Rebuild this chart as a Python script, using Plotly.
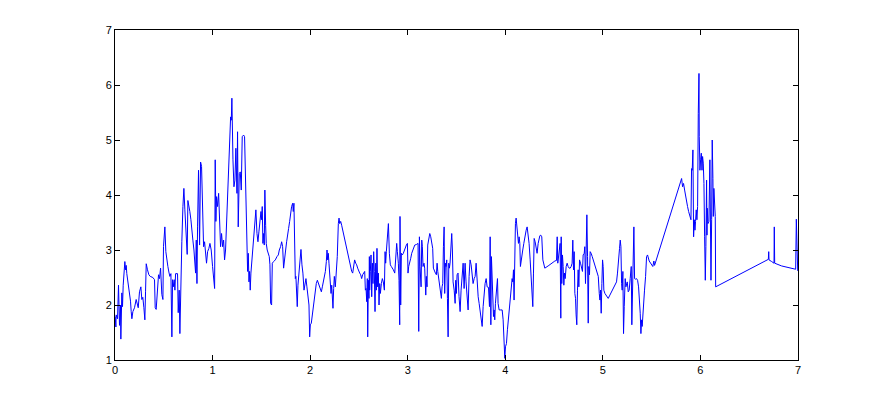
import plotly.graph_objects as go

# Eixos / ticks
x_ticks = [0, 1, 2, 3, 4, 5, 6, 7]
y_ticks = [1, 2, 3, 4, 5, 6, 7]

# Serie (x, y)
t = [
    0.002, 0.009, 0.012, 0.026, 0.036, 0.046, 0.056, 0.06, 0.07, 0.077, 0.084, 0.094, 0.101, 0.108, 0.115, 0.121,
    0.132, 0.142, 0.152, 0.159, 0.166, 0.173, 0.183, 0.2, 0.217, 0.227, 0.238, 0.251, 0.265, 0.275, 0.285, 0.296,
    0.306, 0.313, 0.32, 0.333, 0.347, 0.361, 0.388, 0.405, 0.412, 0.422, 0.432, 0.446, 0.456, 0.467, 0.48, 0.491,
    0.497, 0.511, 0.521, 0.532, 0.542, 0.552, 0.562, 0.573, 0.579, 0.583, 0.59, 0.597, 0.607, 0.614, 0.621, 0.641,
    0.648, 0.658, 0.665, 0.675, 0.685, 0.696, 0.706, 0.716, 0.723, 0.733, 0.74, 0.747, 0.757, 0.767, 0.778, 0.788,
    0.798, 0.809, 0.819, 0.826, 0.833, 0.84, 0.846, 0.856,
    0.867, 0.877, 0.887, 0.897, 0.908, 0.918, 0.928, 0.938, 0.949, 0.962, 0.973, 0.986, 1.0, 1.01, 1.021, 1.027,
    1.034, 1.041, 1.051, 1.062, 1.072, 1.082, 1.092, 1.103, 1.113, 1.123, 1.133, 1.144, 1.154, 1.164, 1.174, 1.185,
    1.192, 1.198, 1.209, 1.219, 1.229, 1.239, 1.25, 1.256, 1.263, 1.274, 1.284, 1.294, 1.304, 1.318, 1.328, 1.338,
    1.349, 1.359, 1.366, 1.373, 1.379, 1.386, 1.393, 1.403, 1.414, 1.424, 1.434, 1.444, 1.455, 1.465, 1.475, 1.485,
    1.496, 1.503, 1.509, 1.516, 1.523, 1.53, 1.536, 1.544, 1.55, 1.56, 1.571, 1.581, 1.588, 1.595, 1.605, 1.612,
    1.626, 1.643, 1.66, 1.674, 1.684,
    1.697, 1.708, 1.718, 1.728, 1.738, 1.749, 1.759, 1.769, 1.779, 1.79, 1.8, 1.81, 1.821, 1.827, 1.834, 1.841,
    1.848, 1.854, 1.861, 1.868, 1.875, 1.885, 1.895, 1.906, 1.916, 1.926, 1.937, 1.947, 1.957, 1.967, 1.978, 1.988,
    1.995, 2.002, 2.012, 2.022, 2.032, 2.043, 2.053, 2.063, 2.074, 2.084, 2.094, 2.104, 2.115, 2.125, 2.135, 2.145,
    2.156, 2.166, 2.173, 2.18, 2.186, 2.193, 2.2, 2.207, 2.214, 2.221, 2.227, 2.234, 2.241, 2.248, 2.258, 2.268,
    2.278, 2.289, 2.296, 2.303, 2.313, 2.323, 2.354, 2.385, 2.415, 2.426, 2.436, 2.446, 2.456, 2.467, 2.477, 2.487,
    2.497, 2.508, 2.518, 2.528, 2.538, 2.549, 2.559, 2.566, 2.573, 2.58, 2.586, 2.59, 2.597, 2.603, 2.607,
    2.61, 2.617, 2.624, 2.631, 2.638, 2.644, 2.651, 2.658, 2.665, 2.672, 2.679, 2.685, 2.692, 2.699, 2.706, 2.713,
    2.72, 2.73, 2.74, 2.75, 2.761, 2.768, 2.774, 2.781, 2.791, 2.802, 2.812, 2.822, 2.832, 2.843, 2.853, 2.867,
    2.877, 2.887, 2.894, 2.904, 2.911, 2.918, 2.921, 2.928, 2.935, 2.945, 2.955, 2.965, 2.976, 2.986, 2.997, 3.003,
    3.01, 3.021, 3.031, 3.041, 3.051, 3.062, 3.072, 3.089, 3.106, 3.113, 3.12, 3.126, 3.137, 3.144, 3.15, 3.157,
    3.167, 3.174, 3.185, 3.191, 3.198, 3.205, 3.215, 3.226, 3.236, 3.246, 3.256, 3.263, 3.274, 3.284, 3.294, 3.301,
    3.308, 3.318, 3.328, 3.338, 3.345, 3.352, 3.359, 3.366, 3.373, 3.379, 3.386, 3.393, 3.4, 3.407, 3.414, 3.421,
    3.427, 3.434, 3.441, 3.451, 3.458, 3.465, 3.476,
    3.486, 3.492, 3.499, 3.506, 3.516, 3.526, 3.537, 3.547, 3.557, 3.568, 3.578, 3.588, 3.598, 3.609, 3.619, 3.629,
    3.639, 3.65, 3.66, 3.67, 3.681, 3.691, 3.701, 3.711, 3.722, 3.732, 3.742, 3.752, 3.763, 3.773, 3.783, 3.793,
    3.804, 3.814, 3.828, 3.838, 3.845, 3.852, 3.858, 3.865, 3.872, 3.879, 3.886, 3.892, 3.899, 3.909, 3.92, 3.926,
    3.937, 3.95, 3.968, 3.978, 3.988, 3.995, 4.002, 4.012, 4.022, 4.032, 4.043, 4.053, 4.063, 4.07, 4.077, 4.084,
    4.09, 4.097, 4.104, 4.111, 4.118, 4.125, 4.135, 4.142, 4.149, 4.155, 4.162, 4.169, 4.179, 4.19, 4.203, 4.214,
    4.224, 4.234, 4.244, 4.255, 4.265, 4.275, 4.282, 4.289, 4.296, 4.306, 4.316, 4.326, 4.337, 4.347,
    4.354, 4.364, 4.374, 4.385, 4.395, 4.405, 4.439, 4.474, 4.508, 4.525, 4.532, 4.538, 4.545, 4.556, 4.562, 4.569,
    4.573, 4.579, 4.586, 4.593, 4.6, 4.607, 4.614, 4.624, 4.634, 4.644, 4.655, 4.665, 4.675, 4.685, 4.692, 4.699,
    4.706, 4.713, 4.72, 4.726, 4.733, 4.74, 4.747, 4.754, 4.761, 4.771, 4.781, 4.791, 4.798, 4.809, 4.815, 4.822,
    4.829, 4.836, 4.843, 4.85, 4.856, 4.863, 4.87, 4.88, 4.891, 4.901, 4.911, 4.921, 4.932, 4.942, 4.953, 4.963,
    4.97, 4.976, 4.983, 4.99, 4.997, 5.003, 5.01, 5.021, 5.031, 5.041, 5.055, 5.072, 5.089, 5.106, 5.123, 5.14,
    5.15, 5.157, 5.164, 5.171, 5.178, 5.185, 5.192, 5.198, 5.205, 5.212, 5.219,
    5.222, 5.229, 5.236, 5.243, 5.25, 5.26, 5.27, 5.28, 5.291, 5.297, 5.304, 5.311, 5.318, 5.325, 5.335, 5.345,
    5.356, 5.366, 5.376, 5.383, 5.39, 5.397, 5.403, 5.41, 5.417, 5.427, 5.438, 5.448, 5.458, 5.475, 5.512, 5.523,
    5.53, 5.807, 5.817, 5.827, 5.838, 5.848, 5.858, 5.868, 5.879, 5.889, 5.896, 5.903, 5.909, 5.916, 5.923, 5.93,
    5.937, 5.944, 5.95, 5.957, 5.964, 5.971, 5.978, 5.985, 5.988, 5.995, 6.002, 6.009, 6.016, 6.022, 6.029, 6.036,
    6.043, 6.05, 6.056, 6.063,
    6.067, 6.07, 6.077, 6.087, 6.097, 6.104, 6.108, 6.115, 6.121, 6.128, 6.132, 6.138, 6.145, 6.152, 6.156, 6.696,
    6.7, 6.703, 6.73, 6.754, 6.757, 6.761, 6.832, 6.935, 6.976, 6.983, 6.99, 6.997,
]
v = [
    1.79, 1.6, 1.82, 1.75, 2.36, 1.63, 2.0, 1.38, 2.22, 1.97, 2.36, 2.6, 2.79, 2.64, 2.72, 2.57,
    2.42, 2.22, 2.19, 2.07, 1.88, 1.75, 1.88, 1.95, 2.1, 2.03, 1.95, 2.24, 2.33, 2.1, 2.14, 1.95,
    1.73, 2.24, 2.75, 2.64, 2.55, 2.52, 2.5, 2.46, 1.95, 1.92, 2.3, 2.55, 2.48, 2.67, 2.19, 2.1,
    3.06, 3.42, 2.97, 2.78, 2.7, 2.6, 2.52, 2.57, 2.0, 1.42, 2.46, 2.33, 2.46, 2.27, 2.57, 2.57,
    1.86, 2.27, 1.48, 2.48, 3.15, 3.79, 4.12, 3.73, 3.52, 3.27, 2.92, 3.9, 3.82, 3.7, 3.55, 3.3,
    3.18, 3.0, 2.76, 2.58, 3.18, 2.39, 3.42, 4.45,
    3.09, 4.6, 4.52, 3.55, 3.06, 3.15, 3.0, 2.76, 2.97, 3.03, 3.12, 3.0, 2.7, 2.45, 2.3, 4.64,
    3.52, 3.97, 3.79, 4.03, 3.36, 3.06, 3.3, 3.06, 3.18, 2.82, 3.0, 3.55, 3.91, 4.27, 4.76, 5.42,
    5.36, 5.76, 4.64, 4.15, 4.27, 4.85, 4.03, 5.15, 3.42, 4.39, 4.42, 4.09, 5.06, 5.09, 5.06, 4.12,
    3.06, 2.61, 2.94, 2.42, 2.61, 2.27, 2.58, 2.82, 3.12, 3.36, 3.52, 3.73, 3.3, 3.15, 3.33, 3.52,
    3.7, 3.55, 3.79, 3.12, 3.3, 3.09, 4.09, 3.45, 3.12, 3.0, 2.91, 2.88, 2.73, 2.03, 2.0, 2.76,
    2.79, 2.82, 2.88, 2.91, 3.0,
    3.06, 3.15, 3.06, 2.67, 2.88, 3.0, 3.15, 3.24, 3.39, 3.52, 3.67, 3.79, 3.85, 3.7, 3.85, 3.0,
    2.48, 2.52, 2.21, 1.97, 2.36, 2.61, 2.88, 3.01, 2.73, 2.58, 2.27, 2.39, 2.48, 2.33, 2.18, 2.0,
    1.42, 1.64, 1.67, 1.82, 1.94, 2.09, 2.24, 2.39, 2.45, 2.39, 2.33, 2.27, 2.24, 2.33, 2.42, 2.52,
    2.61, 2.79, 3.0, 2.82, 2.94, 2.76, 2.58, 2.39, 2.21, 2.36, 2.03, 1.94, 2.3, 2.52, 2.33, 2.61,
    2.88, 3.48, 3.58, 3.48, 3.52, 3.45, 3.18, 2.91, 2.64, 2.61, 2.58, 2.7, 2.82, 2.76, 2.73, 2.67,
    2.61, 2.58, 2.55, 2.48, 2.55, 2.58, 2.61, 2.27, 2.3, 2.06, 2.48, 1.42, 2.45, 2.12, 2.88,
    2.27, 2.61, 2.91, 2.15, 2.76, 2.39, 2.97, 2.61, 1.88, 2.76, 2.27, 3.03, 2.33, 2.58, 2.0, 2.39,
    2.21, 2.39, 2.48, 2.42, 2.27, 2.97, 2.76, 2.97, 3.3, 3.48, 2.94, 2.73, 2.7, 2.67, 2.64, 2.58,
    2.82, 3.12, 2.97, 2.76, 2.45, 1.64, 3.61, 2.0, 2.94, 2.91, 2.94, 3.0, 3.03, 3.09, 3.12, 2.58,
    2.7, 2.76, 2.85, 2.94, 3.0, 3.06, 3.09, 3.1, 3.12, 1.52, 3.24, 2.7, 2.33, 3.18, 3.06, 2.7,
    2.76, 2.67, 2.18, 2.52, 2.33, 3.09, 3.24, 3.3, 3.24, 3.12, 3.03, 2.67, 2.61, 2.58, 2.55, 2.76,
    2.61, 2.48, 2.3, 2.24, 2.12, 2.33, 2.39, 3.06, 3.42, 2.21, 2.76, 2.7, 2.82, 2.12, 1.42, 2.76,
    2.67, 2.76, 3.12, 3.3, 3.0, 2.42, 2.27,
    2.03, 2.45, 2.21, 2.55, 2.58, 2.15, 1.88, 2.27, 2.61, 2.76, 2.3, 2.76, 2.42, 2.09, 1.91, 2.52,
    2.82, 2.73, 2.48, 2.39, 2.48, 2.52, 2.76, 2.39, 2.15, 2.03, 1.88, 1.76, 1.61, 1.97, 2.27, 2.39,
    2.48, 2.33, 2.32, 1.97, 3.24, 1.64, 2.88, 2.58, 1.97, 1.79, 1.91, 1.73, 2.03, 2.27, 2.48, 2.03,
    1.91, 1.91, 1.91, 1.73, 1.27, 1.03, 1.24, 1.3, 1.55, 1.73, 1.97, 2.21, 2.39, 2.48, 2.42, 2.64,
    2.09, 2.94, 3.48, 3.58, 3.42, 3.21, 3.12, 3.24, 3.12, 2.7, 2.82, 2.94, 3.0, 3.12, 3.27, 3.36,
    3.42, 3.3, 3.12, 2.82, 2.48, 2.15, 1.97, 2.58, 3.21, 3.15, 3.03, 2.94, 3.12, 3.24,
    3.26, 3.27, 3.24, 2.82, 2.7, 2.67, 2.71, 2.76, 2.8, 2.81, 3.24, 2.76, 2.88, 3.06, 3.12, 1.76,
    3.24, 2.39, 2.91, 2.7, 2.36, 2.58, 2.48, 2.7, 2.76, 2.7, 2.67, 2.67, 2.7, 2.76, 3.18, 2.64,
    2.97, 2.21, 2.12, 1.82, 1.64, 2.27, 2.64, 2.33, 2.82, 2.76, 2.7, 2.61, 2.91, 2.94, 3.06, 2.39,
    3.0, 3.64, 2.88, 1.67, 2.7, 2.55, 2.97, 2.94, 2.88, 2.82, 2.76, 2.7, 2.64, 2.61, 2.52, 2.21,
    2.09, 2.27, 1.85, 2.39, 2.82, 2.7, 2.27, 2.21, 2.18, 2.15, 2.12, 2.18, 2.24, 2.3, 2.36, 2.42,
    2.58, 2.79, 3.0, 3.03, 3.18, 3.06, 2.39, 2.27, 2.61, 1.48, 1.97,
    2.21, 2.48, 2.33, 2.42, 2.42, 2.24, 2.27, 2.48, 2.7, 1.64, 2.09, 3.0, 3.42, 2.48, 2.47, 2.48,
    2.45, 2.33, 2.09, 1.85, 1.48, 1.73, 1.61, 1.85, 2.03, 2.27, 2.52, 2.88, 2.91, 2.8, 2.7, 2.8,
    2.72, 4.3, 4.15, 4.21, 4.09, 3.97, 3.91, 3.79, 3.7, 3.64, 3.61, 3.55, 4.48, 4.45, 4.82, 3.24,
    3.55, 3.36, 3.52, 3.73, 3.55, 3.79, 5.48, 6.21, 5.06, 4.45, 4.64, 4.76, 4.45, 4.7, 4.58, 4.21,
    3.24, 2.45, 3.06, 4.27,
    3.27, 3.76, 3.48, 3.52, 4.64, 3.55, 2.45, 3.55, 5.0, 4.3, 3.61, 4.12, 3.61, 3.61, 2.33, 2.83,
    2.97, 2.82, 2.79, 2.76, 3.42, 2.76, 2.71, 2.67, 2.65, 3.56, 3.09, 2.62,
]

text_color = "#000000"

fig = go.Figure()
fig.add_trace(go.Scatter(x=t, y=v, mode="lines", line=dict(color="#0000FF", width=1), showlegend=False))

fig.update_layout(
    width=883, height=404,
    margin=dict(l=115, r=85, t=30, b=44),
    paper_bgcolor="#FFFFFF", plot_bgcolor="#FFFFFF",
    font=dict(family="Liberation Sans, Arial", size=11, color=text_color),
)

# Estilo tipo MATLAB: caixa fechada, ticks para dentro
eixo = dict(
    showgrid=False, zeroline=False,
    showline=True, linecolor=text_color, linewidth=1, mirror="ticks",
    ticks="inside", ticklen=5, tickcolor=text_color, tickwidth=1,
)
fig.update_xaxes(range=[0, 7], tickvals=x_ticks, **eixo)
fig.update_yaxes(range=[1, 7], tickvals=y_ticks, **eixo)

fig.write_html("out.html", config={"displayModeBar": False},
               post_script="document.body.style.margin='0';")
